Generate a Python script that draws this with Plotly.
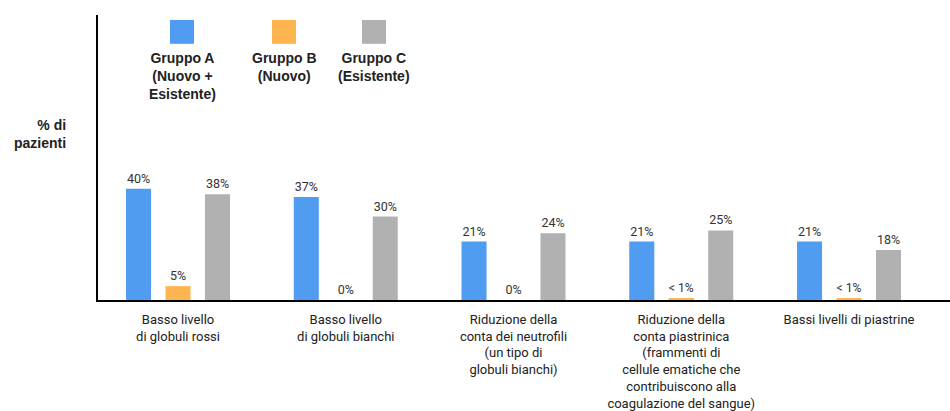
import plotly.graph_objects as go

# Categories (x-axis labels) and group values (% of patients)
categories = [
    "Basso livello<br>di globuli rossi",
    "Basso livello<br>di globuli bianchi",
    "Riduzione della<br>conta dei neutrofili<br>(un tipo di<br>globuli bianchi)",
    "Riduzione della<br>conta piastrinica<br>(frammenti di<br>cellule ematiche che<br>contribuiscono alla<br>coagulazione del sangue)",
    "Bassi livelli di piastrine",
]
group_names = ["Gruppo A<br>(Nuovo +<br>Esistente)", "Gruppo B<br>(Nuovo)", "Gruppo C<br>(Esistente)"]
gruppo_a = [40, 37, 21, 21, 21]
gruppo_b = [5, 0, 0, 0.7, 0.7]
gruppo_c = [38, 30, 24, 25, 18]
labels_a = ["40%", "37%", "21%", "21%", "21%"]
labels_b = ["5%", "0%", "0%", "< 1%", "< 1%"]
labels_c = ["38%", "30%", "24%", "25%", "18%"]

colors = ["#4f9cf0", "#ffb54f", "#b1b1b1"]
font_family = "Roboto, Liberation Sans, sans-serif"
bold_family = "Liberation Sans, Arial, sans-serif"

x_pos = list(range(len(categories)))

fig = go.Figure()
for vals, labs, col in zip([gruppo_a, gruppo_b, gruppo_c],
                           [labels_a, labels_b, labels_c], colors):
    fig.add_trace(go.Bar(
        x=x_pos, y=vals, text=labs, textposition="outside",
        textfont=dict(size=12.5, color="#333333", family=font_family),
        marker=dict(color=col, line=dict(width=0)),
        cliponaxis=False, showlegend=False,
    ))

fig.update_layout(
    width=950, height=411,
    margin=dict(l=98, r=0, t=15, b=109),
    paper_bgcolor="white", plot_bgcolor="white",
    barmode="group", bargap=0.294, bargroupgap=0.366,
    font=dict(family=font_family, color="#222222"),
    xaxis=dict(
        range=[-0.477, 4.602], tickvals=x_pos, ticktext=categories,
        showline=True, linecolor="black", linewidth=2,
        showgrid=False, zeroline=False,
        ticks="outside", ticklen=6, tickcolor="rgba(0,0,0,0)",
        tickfont=dict(size=13, color="#222222", family=font_family),
        tickangle=0,
    ),
    yaxis=dict(
        range=[0, 102.5], showline=True, linecolor="black", linewidth=2,
        showgrid=False, zeroline=False, showticklabels=False, ticks="",
    ),
)

# Legend drawn as swatches with bold captions beneath
legend_x = [182, 284, 374]
for name, col, cx in zip(group_names, colors, legend_x):
    fig.add_shape(type="rect", xref="paper", yref="paper",
                  x0=(cx - 12 - 98) / 852, x1=(cx + 12 - 98) / 852,
                  y0=(302 - 44) / 287, y1=(302 - 20) / 287,
                  fillcolor=col, line=dict(width=0))
    fig.add_annotation(xref="paper", yref="paper",
                       x=(cx - 98) / 852, y=(302 - 48) / 287,
                       text="<b>" + name + "</b>", showarrow=False,
                       xanchor="center", yanchor="top", align="center",
                       font=dict(size=14, color="#222222", family=bold_family))

fig.add_annotation(xref="paper", yref="paper", x=(68 - 98) / 852, y=(302 - 135) / 287,
                   text="<b>% di<br>pazienti</b>", showarrow=False,
                   xanchor="right", yanchor="middle", align="right",
                   font=dict(size=14, color="#222222", family=bold_family))

fig.write_html("out.html")
